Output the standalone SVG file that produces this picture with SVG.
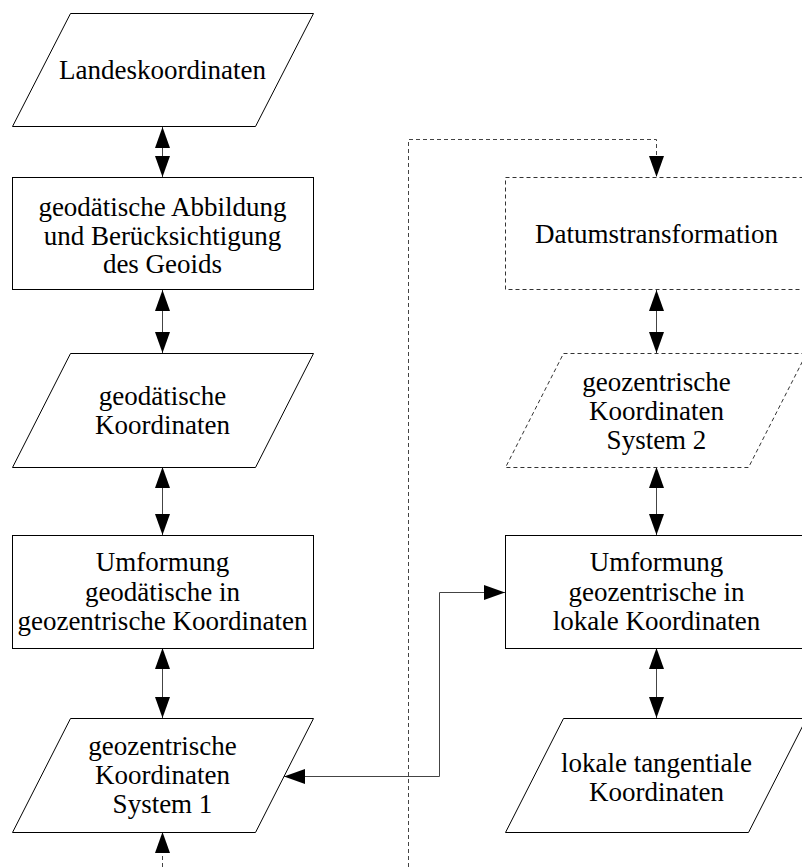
<svg xmlns="http://www.w3.org/2000/svg" width="802" height="867" viewBox="0 0 802 867">
<style>
.s{fill:#fff;stroke:#000;stroke-width:1}
.d{fill:#fff;stroke:#333;stroke-width:1;stroke-dasharray:4,3}
.c{fill:none;stroke:#444;stroke-width:1}
.cd{fill:none;stroke:#444;stroke-width:1;stroke-dasharray:4,3}
.t{font-family:'Liberation Serif','Times New Roman',serif;font-size:27px;fill:#000;text-anchor:middle}
</style>
<defs>
<marker id="ah" viewBox="0 0 21 15" refX="21" refY="7.5" markerWidth="21" markerHeight="15" markerUnits="userSpaceOnUse" orient="auto-start-reverse">
<path d="M0,0 L21,7.5 L0,15 z" fill="#000"/>
</marker>
</defs>
<g id="connectors">
<path class="c" d="M162.5,127 V177" marker-start="url(#ah)" marker-end="url(#ah)"/>
<path class="c" d="M162.5,290 V353" marker-start="url(#ah)" marker-end="url(#ah)"/>
<path class="c" d="M162.5,467 V535" marker-start="url(#ah)" marker-end="url(#ah)"/>
<path class="c" d="M162.5,648 V718" marker-start="url(#ah)" marker-end="url(#ah)"/>
<path class="c" d="M656.5,290 V353" marker-start="url(#ah)" marker-end="url(#ah)"/>
<path class="c" d="M656.5,467 V535" marker-start="url(#ah)" marker-end="url(#ah)"/>
<path class="c" d="M656.5,648 V718" marker-start="url(#ah)" marker-end="url(#ah)"/>
<path class="c" d="M284,776.5 H439.5 V592.5 H505" marker-start="url(#ah)" marker-end="url(#ah)"/>
<path class="cd" d="M162.5,867 V832" marker-end="url(#ah)"/>
<path class="cd" d="M408.5,867 V139.5 H656.5 V177" marker-end="url(#ah)"/>
</g>
<g id="landeskoordinaten">
<polygon class="s" points="70.5,13.5 313.5,13.5 255.5,126.5 12.5,126.5"/>
<text class="t" x="162.5" y="79">Landeskoordinaten</text>
</g>
<g id="geodaetische-abbildung">
<rect class="s" x="12.5" y="177.5" width="301" height="112"/>
<text class="t" x="162.5" y="216">geodätische Abbildung</text>
<text class="t" x="162.5" y="245">und Berücksichtigung</text>
<text class="t" x="162.5" y="273">des Geoids</text>
</g>
<g id="geodaetische-koordinaten">
<polygon class="s" points="70.5,353.5 313.5,353.5 255.5,467.5 12.5,467.5"/>
<text class="t" x="162.5" y="405">geodätische</text>
<text class="t" x="162.5" y="434">Koordinaten</text>
</g>
<g id="umformung-links">
<rect class="s" x="12.5" y="535.5" width="301" height="113"/>
<text class="t" x="162.5" y="571">Umformung</text>
<text class="t" x="162.5" y="601">geodätische in</text>
<text class="t" x="162.5" y="630">geozentrische Koordinaten</text>
</g>
<g id="geozentrisch-1">
<polygon class="s" points="70.5,718.5 313.5,718.5 255.5,832.5 12.5,832.5"/>
<text class="t" x="162.5" y="755">geozentrische</text>
<text class="t" x="162.5" y="784">Koordinaten</text>
<text class="t" x="162.5" y="813">System 1</text>
</g>
<g id="datumstransformation">
<rect class="d" x="505.5" y="177.5" width="301" height="112"/>
<text class="t" x="656.5" y="243">Datumstransformation</text>
</g>
<g id="geozentrisch-2">
<polygon class="d" points="563.5,353.5 806.5,353.5 748.5,467.5 505.5,467.5"/>
<text class="t" x="656.5" y="391">geozentrische</text>
<text class="t" x="656.5" y="420">Koordinaten</text>
<text class="t" x="656.5" y="449">System 2</text>
</g>
<g id="umformung-rechts">
<rect class="s" x="505.5" y="535.5" width="301" height="113"/>
<text class="t" x="656.5" y="571">Umformung</text>
<text class="t" x="656.5" y="601">geozentrische in</text>
<text class="t" x="656.5" y="630">lokale Koordinaten</text>
</g>
<g id="lokale-koordinaten">
<polygon class="s" points="563.5,718.5 806.5,718.5 748.5,832.5 505.5,832.5"/>
<text class="t" x="656.5" y="772">lokale tangentiale</text>
<text class="t" x="656.5" y="801">Koordinaten</text>
</g>
</svg>
